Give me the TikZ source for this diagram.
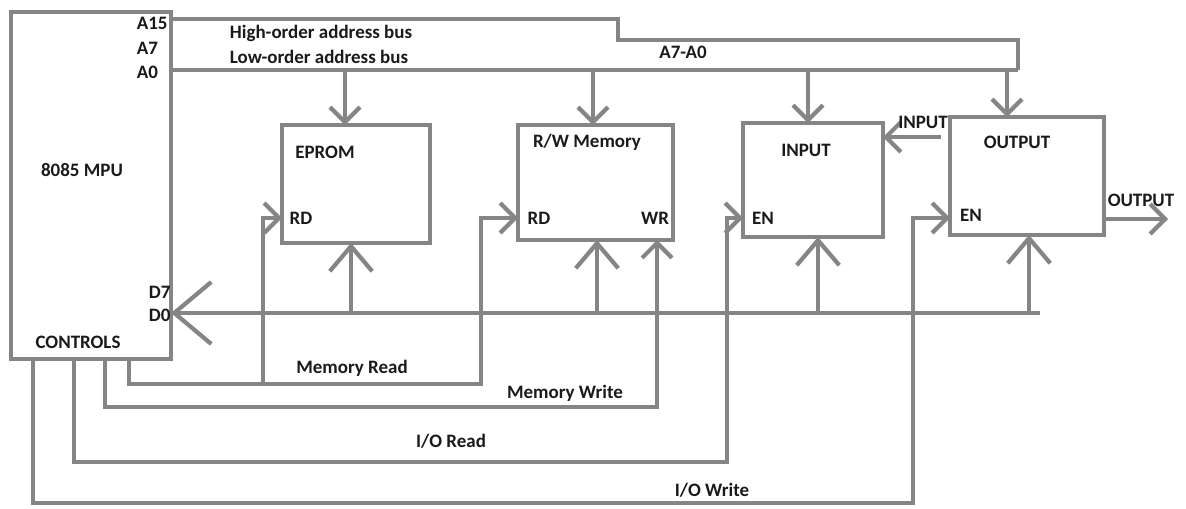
\documentclass[tikz,border=0pt]{standalone}
\usepackage{fontspec}
\setmainfont{Carlito}
\usepackage{xcolor}
\usetikzlibrary{arrows.meta,positioning}
\definecolor{wire}{HTML}{858585}
\definecolor{ink}{HTML}{1A1A1A}

\begin{document}
\begin{tikzpicture}[
  x=0.02cm, y=-0.02cm,
  font=\fontsize{10.8pt}{13pt}\selectfont\bfseries,
  line width=2.4pt, draw=wire,
  unit/.style={draw=wire, rectangle, inner sep=0pt, outer sep=0pt},
  lbl/.style={text=ink, inner sep=1pt},
  wire/.style={draw=wire, line width=2.4pt, line join=miter},
  arr/.style ={wire, -{Straight Barb[length=3mm, width=6mm]}},
  arrm/.style={wire, -{Straight Barb[length=5mm, width=8.5mm]}},
  arrb/.style={wire, -{Straight Barb[length=7.4mm, width=12.4mm]}}
]
    \useasboundingbox (0,0) rectangle (1186,508);

    % Units
    \node[unit, minimum width=3.2cm,  minimum height=6.94cm] (mpu)   at (91,185.5) {};
    \node[unit, minimum width=2.96cm, minimum height=2.36cm] (eprom) at (356,184)  {};
    \node[unit, minimum width=3.1cm,  minimum height=2.3cm]  (rwm)   at (595.5,182.5) {};
    \node[unit, minimum width=2.8cm,  minimum height=2.28cm] (inp)   at (813,180)  {};
    \node[unit, minimum width=3.08cm, minimum height=2.36cm] (outp)  at (1027,176) {};

    % Texts inside the units
    \node[lbl] (mputxt) at (82,170)  {8085 MPU};
    \node[lbl, anchor=west] (a15) at (133,23) {A15};
    \node[lbl, anchor=west] (a7)  at (133,48) {A7};
    \node[lbl, anchor=west] (a0)  at (133,72) {A0};
    \node[lbl, anchor=west] (d7)  at (145,292) {D7};
    \node[lbl, anchor=west] (d0)  at (145,315) {D0};
    \node[lbl] (ctrl)    at (78,342)  {CONTROLS};
    \node[lbl] (eptxt)   at (325,152) {EPROM};
    \node[lbl] (eprd)    at (301,218) {RD};
    \node[lbl] (rwtxt)   at (587,142) {R/W Memory};
    \node[lbl] (rwrd)    at (539,218) {RD};
    \node[lbl] (rwwr)    at (655,218) {WR};
    \node[lbl] (intxt)   at (806,150) {INPUT};
    \node[lbl] (inen)    at (763,218) {EN};
    \node[lbl] (outtxt)  at (1017,142) {OUTPUT};
    \node[lbl] (outen)   at (971,215) {EN};

    % Address bus
    \coordinate (hi1) at (618,19);
    \coordinate (hi2) at (1018,40);
    \coordinate (lo)  at (1018,70);
    \draw[wire] (mpu.east |- hi1) -- (hi1) -- (618,40) -- (hi2) -- (lo);
    \draw[wire] (mpu.east |- lo) -- (lo);
    \node[lbl, anchor=west] (hibus) at (226,33) {High-order address bus};
    \node[lbl, anchor=west] (lobus) at (226,57) {Low-order address bus};
    \node[lbl] (a7a0) at (683,52) {A7-A0};
    \foreach \u/\px in {eprom/345, rwm/593, inp/808, outp/1007}
      \draw[arr] (\px,70) -- (\u.north -| \px,0);

    % Data bus
    \coordinate (dend) at (1040,313);
    \draw[arrb] (dend) -- (mpu.east |- dend);
    \foreach \u/\px in {eprom/351, rwm/597, inp/818, outp/1029}
      \draw[arrm] (\px,313) -- (\u.south -| \px,0);

    % Input and output ports
    \coordinate (insrc) at (941,137);
    \draw[arr] (insrc) -- (inp.east |- insrc);
    \node[lbl] (inport) at (923,122) {INPUT};
    \coordinate (outdst) at (1168,219);
    \draw[arr] (outp.east |- outdst) -- (outdst);
    \node[lbl] (outport) at (1141,200) {OUTPUT};

    % Control lines
    \draw[arr] (mpu.south -| 129,0) -- (129,384) -- (481,384) -- (481,218) -- (rwm.west |- 0,218);
    \draw[arr] (263,384) -- (263,218) -- (eprom.west |- 0,218);
    \node[lbl] (mrd) at (352,368) {Memory Read};
    \draw[arr] (mpu.south -| 105,0) -- (105,407) -- (657,407) -- (rwm.south -| 657,0);
    \node[lbl] (mwr) at (565,393) {Memory Write};
    \draw[arr] (mpu.south -| 74,0) -- (74,462) -- (727,462) -- (727,218) -- (inp.west |- 0,218);
    \node[lbl] (iord) at (451,441) {I/O Read};
    \draw[arr] (mpu.south -| 33,0) -- (33,503) -- (913,503) -- (913,218) -- (outp.west |- 0,218);
    \node[lbl] (iowr) at (712,490) {I/O Write};
\end{tikzpicture}
\end{document}
